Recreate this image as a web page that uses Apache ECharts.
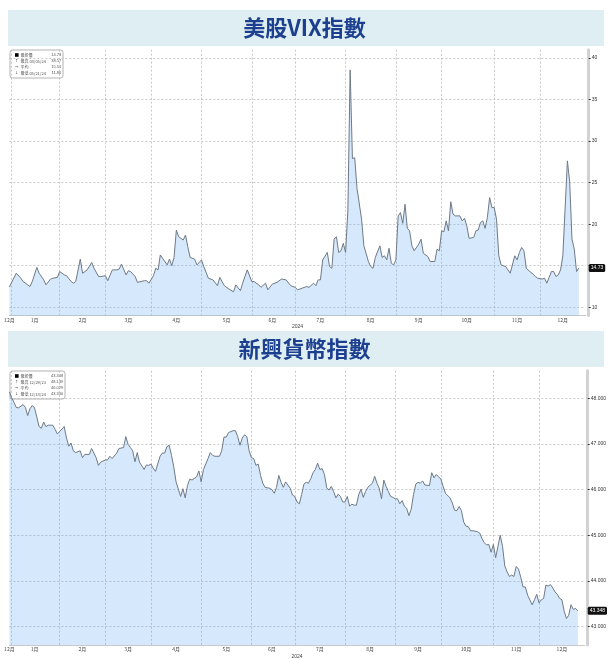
<!DOCTYPE html>
<html>
<head>
<meta charset="utf-8">
<script src="https://cdn.jsdelivr.net/npm/echarts@6/dist/echarts.min.js"></script>
<style>
html,body{margin:0;padding:0;background:#ffffff;}
#c{width:609px;height:660px;}
</style>
</head>
<body>
<div id="c"></div>
<script>
// ---------- data ----------
const vixTitle = '美股VIX指數';
const emTitle = '新興貨幣指數';
const yearLabel = '2024';
const monthNames = ['1月','2月','3月','4月','5月','6月','7月','8月','9月','10月','11月','12月'];
const axisStart = '2023-12-29';
const axisEnd = '2024-12-31';
const holidays = ['2024-01-01','2024-01-15','2024-02-19','2024-03-29','2024-05-27','2024-06-19','2024-07-04','2024-09-02','2024-11-28','2024-12-25'];

const vixPoints = [
['2023-12-29',12.45],['2024-01-04',14.1],['2024-01-08',13.5],['2024-01-09',13.1],['2024-01-11',12.7],['2024-01-12',12.5],['2024-01-16',13.1],['2024-01-18',14.8],['2024-01-19',14.1],['2024-01-23',13.3],['2024-01-24',12.7],['2024-01-26',13.4],['2024-01-29',13.5],['2024-01-31',13.6],
['2024-02-01',14.3],['2024-02-05',13.9],['2024-02-06',13.8],['2024-02-08',13.1],['2024-02-09',12.9],['2024-02-12',13.1],['2024-02-14',15.8],['2024-02-15',14.1],['2024-02-20',14.5],['2024-02-22',15.4],['2024-02-23',14.7],['2024-02-27',13.7],['2024-02-28',13.7],
['2024-03-01',13.8],['2024-03-04',13.2],['2024-03-06',14.5],['2024-03-08',14.5],['2024-03-11',14.6],['2024-03-12',15.2],['2024-03-14',13.9],['2024-03-15',14.4],['2024-03-18',14.3],['2024-03-20',13.7],['2024-03-21',13.0],['2024-03-26',13.2],['2024-03-27',13.2],['2024-03-28',12.9],
['2024-04-02',13.8],['2024-04-03',14.7],['2024-04-04',14.5],['2024-04-05',16.3],['2024-04-08',15.9],['2024-04-10',15.1],['2024-04-11',15.8],['2024-04-12',15.0],['2024-04-15',16.0],['2024-04-16',19.3],['2024-04-17',18.5],['2024-04-19',18.1],['2024-04-22',18.7],['2024-04-23',17.3],['2024-04-24',16.0],['2024-04-26',15.8],['2024-04-29',15.1],
['2024-05-01',15.7],['2024-05-02',14.9],['2024-05-06',13.5],['2024-05-08',13.3],['2024-05-10',12.6],['2024-05-13',13.6],['2024-05-15',12.6],['2024-05-17',12.2],['2024-05-21',11.86],['2024-05-22',12.7],['2024-05-24',12.0],['2024-05-28',12.9],['2024-05-30',14.5],
['2024-06-03',13.1],['2024-06-04',13.1],['2024-06-06',12.7],['2024-06-07',12.4],['2024-06-11',12.9],['2024-06-12',12.1],['2024-06-14',12.8],['2024-06-18',13.0],['2024-06-21',13.4],['2024-06-25',13.3],['2024-06-27',12.6],
['2024-07-01',12.4],['2024-07-02',12.1],['2024-07-05',12.3],['2024-07-09',12.5],['2024-07-10',12.4],['2024-07-12',12.9],['2024-07-15',12.6],['2024-07-16',13.3],['2024-07-17',13.3],['2024-07-18',15.7],['2024-07-22',16.6],['2024-07-23',14.9],['2024-07-24',14.7],['2024-07-25',18.2],['2024-07-26',18.5],['2024-07-29',16.6],['2024-07-30',16.8],['2024-07-31',17.7],
['2024-08-01',16.6],['2024-08-02',21.6],['2024-08-05',38.57],['2024-08-06',27.9],['2024-08-07',28.0],['2024-08-08',24.3],['2024-08-12',20.6],['2024-08-13',17.4],['2024-08-15',15.5],['2024-08-16',14.9],['2024-08-19',14.7],['2024-08-20',16.0],['2024-08-22',17.4],['2024-08-23',16.0],['2024-08-26',16.2],['2024-08-27',15.7],['2024-08-28',17.1],['2024-08-29',15.3],['2024-08-30',15.1],
['2024-09-03',15.7],['2024-09-04',21.0],['2024-09-05',21.4],['2024-09-06',20.1],['2024-09-09',22.4],['2024-09-10',19.5],['2024-09-11',19.2],['2024-09-12',17.4],['2024-09-13',16.8],['2024-09-17',17.6],['2024-09-18',18.2],['2024-09-19',16.5],['2024-09-23',16.1],['2024-09-24',15.5],['2024-09-26',15.5],['2024-09-27',17.0],['2024-09-30',16.8],
['2024-10-01',19.2],['2024-10-02',19.1],['2024-10-03',20.4],['2024-10-04',19.2],['2024-10-07',22.7],['2024-10-08',21.2],['2024-10-09',21.0],['2024-10-11',21.0],['2024-10-14',20.4],['2024-10-15',20.7],['2024-10-16',19.8],['2024-10-17',18.3],['2024-10-21',18.4],['2024-10-22',19.2],['2024-10-23',19.3],['2024-10-24',20.2],['2024-10-25',20.4],['2024-10-28',19.5],['2024-10-29',20.8],['2024-10-30',23.2],['2024-10-31',22.0],
['2024-11-01',22.0],['2024-11-04',20.6],['2024-11-05',16.2],['2024-11-06',15.1],['2024-11-08',14.9],['2024-11-11',14.5],['2024-11-12',14.1],['2024-11-14',16.2],['2024-11-15',15.7],['2024-11-18',16.6],['2024-11-19',17.2],['2024-11-20',16.8],['2024-11-21',14.7],['2024-11-25',14.2],['2024-11-26',14.0],['2024-11-27',13.7],['2024-11-29',13.5],
['2024-12-03',13.4],['2024-12-04',13.5],['2024-12-05',12.9],['2024-12-09',14.3],['2024-12-10',14.3],['2024-12-11',13.7],['2024-12-12',13.9],['2024-12-13',14.5],['2024-12-16',16.2],['2024-12-18',27.62],['2024-12-19',25.1],['2024-12-20',18.2],['2024-12-23',17.0],['2024-12-24',14.3],['2024-12-26',14.73]
];

const emPoints = [
['2023-12-29',48.139],['2024-01-02',48.01],['2024-01-03',47.91],['2024-01-04',47.80],['2024-01-05',47.79],['2024-01-09',47.86],['2024-01-10',47.80],['2024-01-11',47.62],['2024-01-12',47.77],['2024-01-16',47.84],['2024-01-17',47.79],['2024-01-18',47.59],['2024-01-19',47.38],['2024-01-22',47.34],['2024-01-23',47.48],['2024-01-24',47.38],['2024-01-25',47.41],['2024-01-29',47.41],['2024-01-30',47.32],['2024-01-31',47.22],
['2024-02-01',47.27],['2024-02-05',47.38],['2024-02-06',47.13],['2024-02-07',46.95],['2024-02-08',47.02],['2024-02-09',46.85],['2024-02-12',46.81],['2024-02-14',46.85],['2024-02-15',46.70],['2024-02-16',46.77],['2024-02-20',46.77],['2024-02-21',46.77],['2024-02-22',46.90],['2024-02-26',46.70],['2024-02-27',46.53],['2024-02-28',46.60],
['2024-03-01',46.65],['2024-03-04',46.65],['2024-03-05',46.73],['2024-03-06',46.68],['2024-03-08',46.80],['2024-03-11',46.90],['2024-03-13',46.92],['2024-03-14',47.16],['2024-03-15',46.99],['2024-03-18',46.92],['2024-03-19',46.85],['2024-03-20',46.61],['2024-03-21',46.81],['2024-03-22',46.60],['2024-03-26',46.44],['2024-03-27',46.54],['2024-03-28',46.53],
['2024-04-01',46.56],['2024-04-02',46.47],['2024-04-03',46.40],['2024-04-05',46.73],['2024-04-08',46.80],['2024-04-09',46.80],['2024-04-10',46.94],['2024-04-11',46.97],['2024-04-12',46.75],['2024-04-15',46.50],['2024-04-16',46.17],['2024-04-18',45.85],['2024-04-19',46.02],['2024-04-22',45.82],['2024-04-23',46.09],['2024-04-24',46.23],['2024-04-25',46.21],['2024-04-29',46.28],['2024-04-30',46.41],
['2024-05-01',46.17],['2024-05-02',46.44],['2024-05-06',46.68],['2024-05-07',46.81],['2024-05-08',46.75],['2024-05-09',46.73],['2024-05-13',46.73],['2024-05-14',46.85],['2024-05-15',47.15],['2024-05-16',47.15],['2024-05-17',47.25],['2024-05-21',47.29],['2024-05-22',47.29],['2024-05-23',47.16],['2024-05-24',46.97],['2024-05-28',47.13],['2024-05-29',47.20],['2024-05-30',47.16],['2024-05-31',46.85],
['2024-06-03',46.70],['2024-06-04',46.68],['2024-06-05',46.53],['2024-06-06',46.56],['2024-06-07',46.31],['2024-06-10',46.14],['2024-06-11',46.05],['2024-06-13',46.03],['2024-06-14',46.00],['2024-06-17',45.92],['2024-06-18',46.05],['2024-06-20',46.31],['2024-06-21',46.16],['2024-06-24',46.05],['2024-06-25',46.17],['2024-06-27',46.03],['2024-06-28',45.88],
['2024-07-01',45.85],['2024-07-02',45.73],['2024-07-03',45.69],['2024-07-05',45.89],['2024-07-08',46.12],['2024-07-09',46.16],['2024-07-10',46.14],['2024-07-11',46.24],['2024-07-12',46.37],['2024-07-15',46.44],['2024-07-16',46.58],['2024-07-17',46.44],['2024-07-18',46.46],['2024-07-19',46.33],['2024-07-22',46.04],['2024-07-23',45.99],['2024-07-24',46.07],['2024-07-25',45.96],['2024-07-26',45.82],['2024-07-29',45.90],['2024-07-30',45.85],['2024-07-31',45.73],
['2024-08-01',45.73],['2024-08-02',45.85],['2024-08-05',45.64],['2024-08-06',45.68],['2024-08-07',45.66],['2024-08-08',45.66],['2024-08-09',45.89],['2024-08-12',46.01],['2024-08-13',45.83],['2024-08-14',45.96],['2024-08-15',46.05],['2024-08-19',46.14],['2024-08-20',46.29],['2024-08-21',46.14],['2024-08-22',46.03],['2024-08-23',45.80],['2024-08-26',46.21],['2024-08-27',46.07],['2024-08-28',45.96],['2024-08-29',45.85],['2024-08-30',45.83],
['2024-09-03',45.80],['2024-09-04',45.80],['2024-09-05',45.69],['2024-09-06',45.76],['2024-09-09',45.64],['2024-09-10',45.59],['2024-09-11',45.43],['2024-09-12',45.57],['2024-09-13',45.89],['2024-09-16',46.12],['2024-09-17',46.16],['2024-09-18',46.14],['2024-09-19',46.19],['2024-09-20',46.10],['2024-09-24',46.09],['2024-09-25',46.37],['2024-09-26',46.26],['2024-09-27',46.33],['2024-09-30',46.28],
['2024-10-01',46.23],['2024-10-02',46.07],['2024-10-03',45.92],['2024-10-07',45.82],['2024-10-08',45.71],['2024-10-09',45.55],['2024-10-10',45.54],['2024-10-11',45.63],['2024-10-14',45.54],['2024-10-15',45.29],['2024-10-16',45.20],['2024-10-17',45.19],['2024-10-18',45.10],['2024-10-21',45.10],['2024-10-23',45.08],['2024-10-24',45.05],['2024-10-25',44.93],['2024-10-28',44.84],['2024-10-29',44.79],['2024-10-30',44.80],['2024-10-31',44.63],
['2024-11-01',44.80],['2024-11-04',44.51],['2024-11-05',44.76],['2024-11-06',45.00],['2024-11-07',44.76],['2024-11-08',44.33],['2024-11-11',44.20],['2024-11-12',44.10],['2024-11-13',44.13],['2024-11-14',44.10],['2024-11-15',44.32],['2024-11-18',44.26],['2024-11-19',44.08],['2024-11-20',43.87],['2024-11-21',43.87],['2024-11-22',43.69],['2024-11-26',43.48],['2024-11-27',43.59],['2024-11-29',43.71],
['2024-12-02',43.52],['2024-12-03',43.59],['2024-12-04',43.62],['2024-12-05',43.91],['2024-12-06',43.89],['2024-12-09',43.92],['2024-12-10',43.85],['2024-12-11',43.76],['2024-12-12',43.71],['2024-12-13',43.62],['2024-12-16',43.59],['2024-12-17',43.34],['2024-12-18',43.18],['2024-12-19',43.25],['2024-12-20',43.48],['2024-12-23',43.38],['2024-12-24',43.40],['2024-12-26',43.348]
];

const vixTicks = [10,15,20,25,30,35,40];
const vixTickLabels = [10,20,25,30,35,40];
const emTicks = [43,44,45,46,47,48];
const emTickLabels = [43,44,45,46,47,48];

const statNames = ['最新價','最高','平均','最低'];
const vixStatDates = ['','08/05/24','','05/21/24'];
const vixStatValues = ['14.73','38.57','15.51','11.86'];
const emStatDates = ['','12/29/23','','12/18/24'];
const emStatValues = ['43.348','48.139','46.029','43.330'];

// ---------- build ----------
function buildTradingDays(){
  const out = [];
  const p = axisStart.split('-').map(Number), q = axisEnd.split('-').map(Number);
  const d = new Date(Date.UTC(p[0], p[1]-1, p[2]));
  const end = new Date(Date.UTC(q[0], q[1]-1, q[2]));
  while (d <= end){
    const dow = d.getUTCDay();
    const s = d.toISOString().slice(0,10);
    if (dow !== 0 && dow !== 6 && holidays.indexOf(s) < 0) out.push(s);
    d.setUTCDate(d.getUTCDate()+1);
  }
  return out;
}
const days = buildTradingDays();
const monthRanges = {};
days.forEach((s,i)=>{ const k = s.slice(0,7); if(!monthRanges[k]) monthRanges[k]=[i,i]; else monthRanges[k][1]=i; });
const labelSet = new Set(), splitSet = new Set();
Object.keys(monthRanges).forEach(k=>{
  const r = monthRanges[k];
  labelSet.add(Math.round((r[0]+r[1])/2));
  if (r[0] > 0) splitSet.add(r[0]);
});

const CJK = '"Noto Sans CJK TC","Noto Sans CJK SC",sans-serif';
const NUM = '"Liberation Sans",Arial,sans-serif';
const gridLine = {color:'#bcbcbc', type:[2,2], width:0.8};

function makeX(gi){
  return {
    type:'category', gridIndex:gi, data:days, boundaryGap:false,
    axisLine:{show:true, lineStyle:{color:'#c9c9c9', width:1}},
    axisTick:{show:false},
    axisLabel:{interval:(i)=>labelSet.has(i), formatter:(v)=>monthNames[parseInt(v.slice(5,7),10)-1],
      fontSize:5, color:'#444', margin:2, fontFamily:CJK},
    splitLine:{show:true, interval:(i)=>splitSet.has(i), lineStyle:gridLine},
    name:yearLabel, nameLocation:'middle', nameGap:9,
    nameTextStyle:{fontSize:5, color:'#444', fontFamily:NUM}
  };
}
function makeY(gi, min, max, ticks, labels, fmt){
  return {
    type:'value', gridIndex:gi, position:'right', min:min, max:max, offset:3,
    axisLine:{show:true, lineStyle:{color:'#d2d2d2', width:3}},
    axisTick:{show:true, length:2, customValues:ticks, lineStyle:{color:'#333', width:1}},
    axisLabel:{customValues:labels, formatter:fmt, fontSize:5, color:'#333', margin:3, fontFamily:NUM},
    splitLine:{show:true, lineStyle:gridLine}
  };
}
function makeSeries(gi, pts, dec){
  const last = pts[pts.length-1][1];
  return {
    type:'line', xAxisIndex:gi, yAxisIndex:gi, data:pts, symbol:'none', showSymbol:false, silent:true,
    lineStyle:{color:'#6f7a87', width:1}, areaStyle:{color:'rgba(100,168,245,0.38)', origin:'start'},
    markLine:{silent:true, symbol:['none','none'], lineStyle:{color:'rgba(0,0,0,0)', width:0, type:'solid'},
      label:{show:true, position:'end', distance:3, formatter:last.toFixed(dec), backgroundColor:'#111111', color:'#ffffff',
        fontSize:5, padding:[1.5,2], borderRadius:1.5, fontFamily:NUM, opacity:1},
      data:[{yAxis:last}]}
  };
}
function statBox(x, y, w, dates, values){
  const children = [{type:'rect', shape:{x:0,y:0,width:w,height:28,r:2.5}, style:{fill:'#ffffff', stroke:'#a0a0a0', lineWidth:0.8}}];
  const syms = ['', '↑', '→', '↓'];
  statNames.forEach((nm,k)=>{
    const cy = 5 + k*6;
    if (k === 0) children.push({type:'rect', shape:{x:5,y:cy-1.8,width:3.6,height:3.6}, style:{fill:'#000'}});
    else children.push({type:'text', x:6.8, y:cy, style:{text:syms[k], fontSize:4, fill:'#555', align:'center', verticalAlign:'middle', fontFamily:'"DejaVu Sans",sans-serif'}});
    children.push({type:'text', x:10.5, y:cy, style:{text:nm + (dates[k] ? ' ' + dates[k] : ''), fontSize:4, fill:'#555', verticalAlign:'middle', fontFamily:CJK}});
    children.push({type:'text', x:w-1.8, y:cy, style:{text:values[k], fontSize:4, fill:'#555', align:'right', verticalAlign:'middle', fontFamily:NUM}});
  });
  return {type:'group', x:x, y:y, z:100, children:children};
}

const chart = echarts.init(document.getElementById('c'), null, {renderer:'canvas'});
chart.setOption({
  animation:false,
  backgroundColor:'#ffffff',
  title:[
    {text:vixTitle, left:'center', top:17, padding:0, textStyle:{fontSize:22, fontWeight:'bold', color:'#1d3f8f', fontFamily:CJK}},
    {text:emTitle, left:'center', top:338, padding:0, textStyle:{fontSize:22, fontWeight:'bold', color:'#1d3f8f', fontFamily:CJK}}
  ],
  graphic:[
    {type:'rect', z:-10, shape:{x:8, y:10, width:596, height:36}, style:{fill:'#deeef2'}},
    {type:'rect', z:-10, shape:{x:8, y:331, width:596, height:36}, style:{fill:'#deeef2'}},
    statBox(10, 50, 53, vixStatDates, vixStatValues),
    statBox(10, 371, 55, emStatDates, emStatValues)
  ],
  grid:[
    {left:9.4, right:23.3, top:49.7, height:265.9},
    {left:9.4, right:23.3, top:370.8, height:282}
  ],
  xAxis:[makeX(0), makeX(1)],
  yAxis:[
    makeY(0, 9, 41, vixTicks, vixTickLabels, (v)=>String(v)),
    makeY(1, 42.6, 48.6, emTicks, emTickLabels, (v)=>v.toFixed(3))
  ],
  series:[makeSeries(0, vixPoints, 2), makeSeries(1, emPoints, 3)]
});
</script>
</body>
</html>
